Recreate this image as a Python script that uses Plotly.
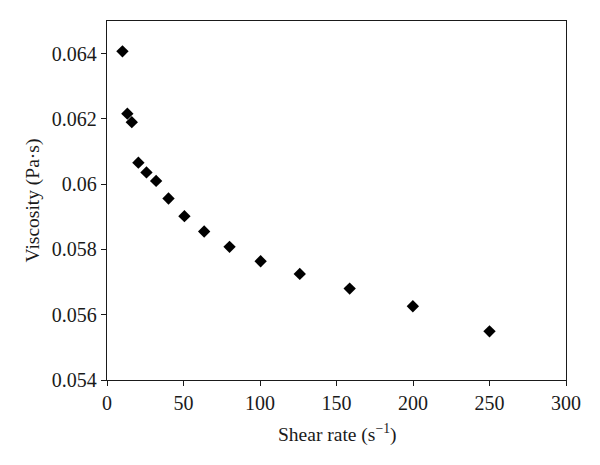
import plotly.graph_objects as go

shear_rate = [10.1, 13.3, 16.2, 20.5, 25.8, 32.1, 40.2, 50.6, 63.5, 80.1, 100.4, 126.0, 158.6, 199.9, 250.0]
viscosity = [0.06407, 0.06216, 0.0619, 0.06066, 0.06036, 0.0601, 0.05956, 0.05902,
             0.05855, 0.05808, 0.05764, 0.05725, 0.0568, 0.05626, 0.05549]

x_ticks = [0, 50, 100, 150, 200, 250, 300]
y_ticks = [0.054, 0.056, 0.058, 0.06, 0.062, 0.064]
y_tick_labels = ["0.054", "0.056", "0.058", "0.06", "0.062", "0.064"]

x_title = "Shear rate (s<sup>−1</sup>)"
y_title = "Viscosity (Pa·s)"

font_family = "Liberation Serif, Times New Roman, serif"

fig = go.Figure()
fig.add_trace(go.Scatter(
    x=shear_rate, y=viscosity, mode="markers",
    marker=dict(symbol="diamond", size=9.5, color="black", line=dict(width=0)),
    showlegend=False,
))

fig.update_layout(
    width=592, height=457,
    margin=dict(l=99, r=34, t=13, b=85, autoexpand=False),
    paper_bgcolor="white", plot_bgcolor="white",
    font=dict(family=font_family, size=20, color="#1a1a1a"),
    xaxis=dict(
        range=[0, 300], tickvals=x_ticks, ticktext=[str(v) for v in x_ticks],
        showgrid=False, zeroline=False, automargin=False,
        showline=True, linecolor="#1a1a1a", linewidth=1.3, mirror=True,
        ticks="outside", ticklen=5, tickwidth=1.3, tickcolor="#1a1a1a",
        tickfont=dict(size=20),
    ),
    yaxis=dict(
        range=[0.054, 0.065], tickvals=y_ticks, ticktext=y_tick_labels,
        showgrid=False, zeroline=False, automargin=False,
        showline=True, linecolor="#1a1a1a", linewidth=1.3, mirror=True,
        ticks="outside", ticklen=5, tickwidth=1.3, tickcolor="#1a1a1a",
        tickfont=dict(size=20),
    ),
    annotations=[
        dict(text=x_title, xref="paper", yref="paper", x=0.5, y=0,
             yshift=-53, showarrow=False, xanchor="center", yanchor="middle",
             font=dict(size=19.5)),
        dict(text=y_title, xref="paper", yref="paper", x=0, y=0.5,
             xshift=-75, showarrow=False, xanchor="center", yanchor="middle",
             textangle=-90, font=dict(size=19.5)),
    ],
)

fig.write_html("out.html")
